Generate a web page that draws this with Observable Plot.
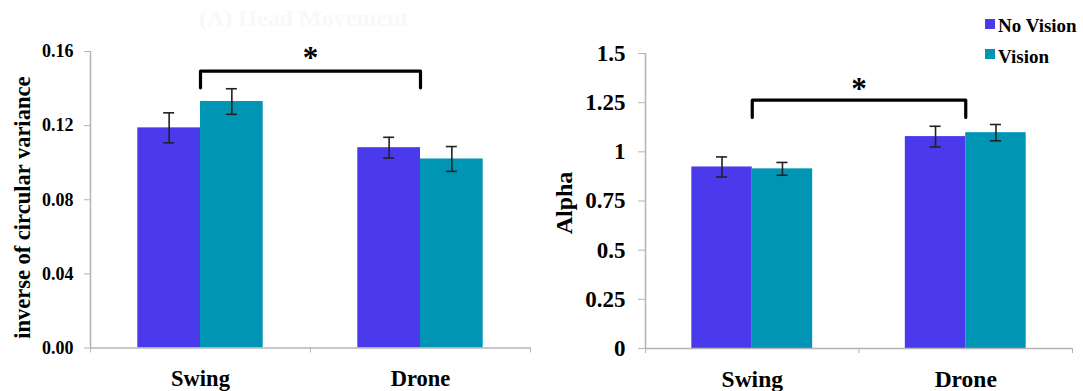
<!DOCTYPE html>
<html><head><meta charset="utf-8">
<script src="https://cdn.jsdelivr.net/npm/d3@7"></script>
<script src="https://cdn.jsdelivr.net/npm/@observablehq/plot@0.6"></script>
<style>
html,body{margin:0;padding:0;background:#fff;}
#wrap{position:relative;width:1083px;height:391px;overflow:hidden;font-family:"Liberation Serif","Tinos","Times New Roman","DejaVu Serif",serif;font-weight:bold;}
#left{position:absolute;left:0;top:0;}
#right{position:absolute;left:540px;top:0;}
#title{position:absolute;left:199px;top:6px;font-size:24px;line-height:24px;color:#f8f8f8;white-space:nowrap;}
.sw{position:absolute;left:985px;width:10px;height:10px;}
.lt{position:absolute;left:998px;font-size:19px;line-height:19px;white-space:nowrap;color:#000;}
</style></head>
<body>
<div id="wrap">
  <div id="left"></div>
  <div id="right"></div>
  <div id="title"></div>
  <div id="legend"></div>
</div>
<script>
// ---- data ----
const categories = ["Swing", "Drone"];
const seriesNames = ["No Vision", "Vision"];
const seriesColors = ["#4b3aeb", "#0095b4"];

const ivcNoVision = [0.1188, 0.1081];
const ivcVision = [0.1330, 0.1020];
const ivcErrNoVision = [0.0081, 0.0056];
const ivcErrVision = [0.0069, 0.0067];
const ivcTicks = [0, 0.04, 0.08, 0.12, 0.16];
const ivcBracket = [0.1404, 0.1494]; // [end, top]
const ivcStar = 0.1565;
const ivcLabel = "inverse of circular variance";

const alphaNoVision = [0.923, 1.0775];
const alphaVision = [0.9135, 1.0975];
const alphaErrNoVision = [0.051, 0.0525];
const alphaErrVision = [0.0325, 0.0415];
const alphaTicks = [0, 0.25, 0.5, 0.75, 1, 1.25, 1.5];
const alphaBracket = [1.175, 1.263];
const alphaStar = 1.318;
const alphaLabel = "Alpha";

const titleText = "(A) Head Movement";

const FONT = "'Liberation Serif','Tinos','Times New Roman','DejaVu Serif',serif";

function groupedChart(o) {
  const rows = [];
  categories.forEach((c, i) => {
    [o.noVision, o.vision].forEach((arr, s) => {
      const x1 = i + 0.5 - o.barW + s * o.barW;
      rows.push({cat: c, series: seriesNames[s], mean: arr[i],
        err: (s ? o.errVision : o.errNoVision)[i], x1, x2: x1 + o.barW, xc: x1 + o.barW / 2});
    });
  });
  const ymax = o.ticks[o.ticks.length - 1];
  const n = categories.length;
  const bracket = [
    {x: 0.5, y: o.bracket[0]}, {x: 0.5, y: o.bracket[1]},
    {x: n - 0.5, y: o.bracket[1]}, {x: n - 0.5, y: o.bracket[0]}
  ];
  const cap = o.cap;
  return Plot.plot({
    width: o.width, height: 391,
    marginLeft: o.ml, marginRight: o.mr, marginTop: o.mt, marginBottom: o.mb,
    style: {fontFamily: FONT, fontWeight: "bold", color: "black", background: "transparent", overflow: "visible"},
    x: {domain: [0, n], axis: null},
    y: {domain: [0, ymax], axis: null},
    color: {domain: seriesNames, range: seriesColors},
    marks: [
      Plot.rectY(rows, {x1: "x1", x2: "x2", y1: 0, y2: "mean", fill: "series"}),
      Plot.ruleY([0], {x1: 0, x2: n, stroke: "#b4b4b4", strokeWidth: 1.5}),
      Plot.ruleX([0], {y1: 0, y2: ymax, stroke: "#b4b4b4", strokeWidth: 1.5}),
      Plot.axisY({ticks: o.ticks, tickFormat: o.tickFormat, tickSize: o.tickSize, tickPadding: o.tickPadding,
        fontSize: o.tickFont, stroke: "#b4b4b4", fill: "black", label: null}),
      Plot.axisX({ticks: d3.range(n + 1), tickFormat: () => "", tickSize: 5, stroke: "#b4b4b4", label: null}),
      Plot.axisX({ticks: categories.map((c, i) => i + 0.5), tickFormat: d => categories[Math.floor(d)],
        tickSize: 0, tickPadding: o.catPad, fontSize: o.catFont, fill: "black", label: null}),
      Plot.ruleX(rows, {x: "xc", y1: d => d.mean - d.err, y2: d => d.mean + d.err, stroke: "#222", strokeWidth: 1.6}),
      Plot.ruleY(rows, {y: d => d.mean + d.err, x1: d => d.xc - cap, x2: d => d.xc + cap, stroke: "#222", strokeWidth: 1.6}),
      Plot.ruleY(rows, {y: d => d.mean - d.err, x1: d => d.xc - cap, x2: d => d.xc + cap, stroke: "#222", strokeWidth: 1.6}),
      Plot.line(bracket, {x: "x", y: "y", stroke: "black", strokeWidth: 3.2, strokeLinejoin: "round", strokeLinecap: "round"}),
      Plot.text(["*"], {x: n / 2, y: o.star, text: d => d, fontSize: 31, fontWeight: "bold", fill: "black"}),
      Plot.text([o.yLabel], {text: d => d, frameAnchor: "left", textAnchor: "middle", rotate: -90,
        dx: o.labelDx, dy: o.labelDy, fontSize: o.labelFont, fontWeight: "bold", fill: "black"})
    ]
  });
}

const left = groupedChart({
  noVision: ivcNoVision, vision: ivcVision, errNoVision: ivcErrNoVision, errVision: ivcErrVision,
  ticks: ivcTicks, tickFormat: d3.format(".2f"), yLabel: ivcLabel, bracket: ivcBracket, star: ivcStar,
  width: 540, ml: 90, mr: 10, mt: 51, mb: 43.5,
  barW: 0.285, cap: 0.025, tickSize: 6, tickPadding: 11, tickFont: 18,
  catFont: 22.5, catPad: 22, labelFont: 22.5, labelDx: -68, labelDy: 8
});
const right = groupedChart({
  noVision: alphaNoVision, vision: alphaVision, errNoVision: alphaErrNoVision, errVision: alphaErrVision,
  ticks: alphaTicks, tickFormat: d => String(d), yLabel: alphaLabel, bracket: alphaBracket, star: alphaStar,
  width: 543, ml: 105, mr: 11, mt: 53, mb: 43,
  barW: 0.283, cap: 0.026, tickSize: 7, tickPadding: 13, tickFont: 23,
  catFont: 23.5, catPad: 22, labelFont: 24, labelDx: -81, labelDy: 2
});
document.getElementById("left").appendChild(left);
document.getElementById("right").appendChild(right);
document.getElementById("title").textContent = titleText;

const legend = document.getElementById("legend");
seriesNames.forEach((name, i) => {
  const sw = document.createElement("div");
  sw.className = "sw";
  sw.style.top = (19 + i * 30) + "px";
  sw.style.background = seriesColors[i];
  legend.appendChild(sw);
  const t = document.createElement("div");
  t.className = "lt";
  t.style.top = (16 + i * 31) + "px";
  t.textContent = name;
  legend.appendChild(t);
});
</script>
</body></html>
